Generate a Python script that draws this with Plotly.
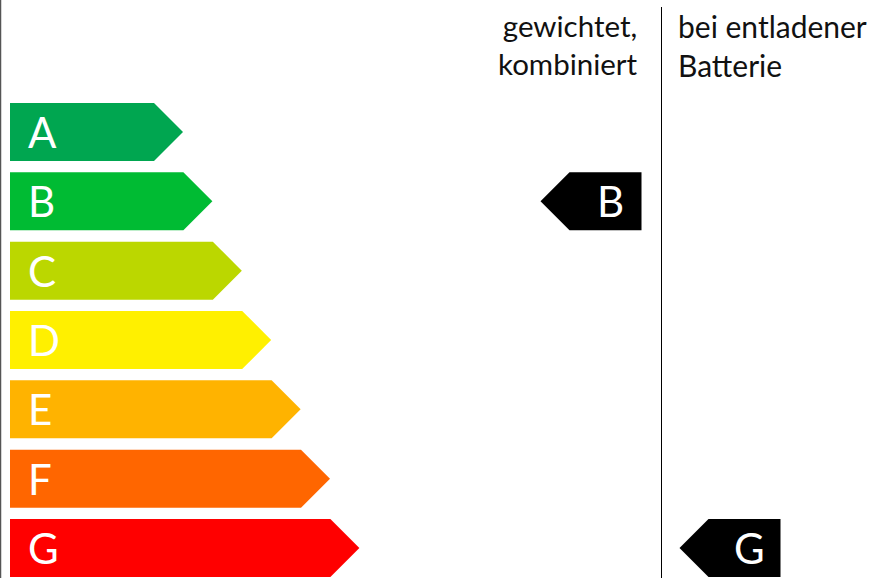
import plotly.graph_objects as go

# ---- data ----
classes = ["A", "B", "C", "D", "E", "F", "G"]
class_colors = ["#00A650", "#00BB33", "#BBD700", "#FFF000", "#FFB300", "#FF6600", "#FF0000"]
column_titles = ["gewichtet,<br>kombiniert", "bei entladener<br>Batterie"]
column_ratings = ["B", "G"]

# ---- layout parameters ----
W, H = 871, 578
ROW_TOP0 = 103
PITCH = 69.33
BAR_H = 58
BAR_X0 = 10
BODY0 = 154
STEP = 29.4
TIP = 29
DIVIDER_X = 661.5
ARROW_W = 101
COL0_RIGHT = 641.5
COL1_LEFT = 679.5
FONT = "Lato, 'Open Sans', sans-serif"

fig = go.Figure()

# colour scale arrows
for i, (c, col) in enumerate(zip(classes, class_colors)):
    top = ROW_TOP0 + i * PITCH
    bot = top + BAR_H
    mid = top + BAR_H / 2
    body = BODY0 + i * STEP
    xs = [BAR_X0, body, body + TIP, body, BAR_X0, BAR_X0]
    ys = [top, top, mid, bot, bot, top]
    fig.add_trace(go.Scatter(x=xs, y=ys, fill="toself", fillcolor=col,
                             mode="lines", line=dict(width=0, color=col),
                             hoverinfo="skip", showlegend=False))
    fig.add_annotation(x=BAR_X0 + 16, y=mid, text=c, xref="x", yref="y",
                       xanchor="left", yanchor="middle", showarrow=False,
                       font=dict(family=FONT, size=42, color="white"))

# rating arrows per column
for k, (title, rating) in enumerate(zip(column_titles, column_ratings)):
    i = classes.index(rating)
    top = ROW_TOP0 + i * PITCH
    bot = top + BAR_H
    mid = top + BAR_H / 2
    if k == 0:
        right = COL0_RIGHT
    else:
        right = COL1_LEFT + ARROW_W
    left = right - ARROW_W
    xs = [left, left + TIP, right, right, left + TIP, left]
    ys = [mid, top, top, bot, bot, mid]
    fig.add_trace(go.Scatter(x=xs, y=ys, fill="toself", fillcolor="black",
                             mode="lines", line=dict(width=0, color="black"),
                             hoverinfo="skip", showlegend=False))
    body_center = left + TIP + (ARROW_W - TIP) / 2
    fig.add_annotation(x=body_center + 4.5, y=mid, text=rating, xref="x", yref="y",
                       xanchor="center", yanchor="middle", showarrow=False,
                       font=dict(family=FONT, size=42, color="white"))
    if k == 0:
        fig.add_annotation(x=COL0_RIGHT - 1.5, y=6, text=title, xref="x", yref="y",
                           xanchor="right", yanchor="top", align="right",
                           showarrow=False,
                           font=dict(family=FONT, size=29.5, color="#111111"))
    else:
        fig.add_annotation(x=COL1_LEFT - 3.5, y=6, text=title, xref="x", yref="y",
                           xanchor="left", yanchor="top", align="left",
                           showarrow=False,
                           font=dict(family=FONT, size=30, color="#111111"))

# divider and left frame line
fig.add_trace(go.Scatter(x=[DIVIDER_X, DIVIDER_X], y=[7, H], mode="lines",
                         line=dict(color="black", width=1),
                         hoverinfo="skip", showlegend=False))
fig.add_trace(go.Scatter(x=[0.5, 0.5], y=[0, H], mode="lines",
                         line=dict(color="#555555", width=1.5),
                         hoverinfo="skip", showlegend=False))

fig.update_layout(
    width=W, height=H,
    margin=dict(l=0, r=0, t=0, b=0),
    paper_bgcolor="white", plot_bgcolor="white",
    xaxis=dict(range=[0, W], visible=False, fixedrange=True),
    yaxis=dict(range=[H, 0], visible=False, fixedrange=True),
)

fig.write_html("out.html", config={"displayModeBar": False},
               post_script="document.body.style.margin='0';document.body.style.overflow='hidden';")
